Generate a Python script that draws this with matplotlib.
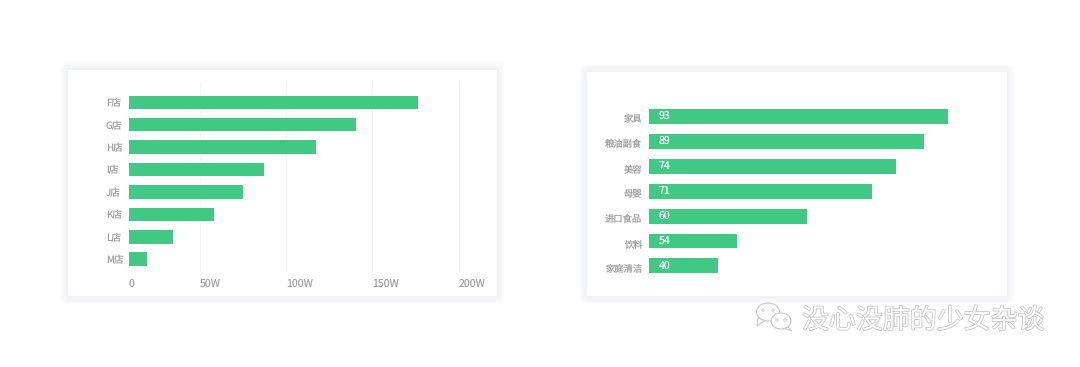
#%%
import numpy as np
import matplotlib
matplotlib.use('Agg')
import matplotlib.pyplot as plt
import matplotlib.patheffects as pe
from matplotlib.patches import Rectangle, FancyBboxPatch, Ellipse, Polygon

plt.rcParams['font.family'] = ['Noto Sans CJK SC', 'DejaVu Sans']
plt.rcParams['text.hinting'] = 'no_hinting'

#%% data
shops = ['F店', 'G店', 'H店', 'I店', 'J店', 'K店', 'L店', 'M店']
shop_sales = [176.6, 140.8, 117.6, 87.2, 75.2, 58.5, 30.8, 13]   # in W
sales_ticks = [0, 50, 100, 150, 200]
sales_labels = ['0', '50W', '100W', '150W', '200W']

goods = ['家具', '粮油副食', '美容', '母婴', '进口食品', '饮料', '家庭清洁']
goods_labels = ['93', '89', '74', '71', '60', '54', '40']
goods_len = [93, 85.7, 76.8, 69.3, 49.3, 27.5, 21.6]   # bars are not to scale with their labels

GREEN = '#41c983'
GREY = '#a3a3a3'
W, H = 1080, 367

fig = plt.figure(figsize=(W / 100, H / 100), dpi=100, facecolor='white')

def px_axes(x0, y0, x1, y1):
    return fig.add_axes([x0 / W, 1 - y1 / H, (x1 - x0) / W, (y1 - y0) / H])

#%% background layer in pixel coords: cards, shadows, watermark
bg = fig.add_axes([0, 0, 1, 1])
bg.set_xlim(0, W)
bg.set_ylim(H, 0)
bg.axis('off')

def card(x0, y0, x1, y1):
    for grow in range(8, 0, -1):
        bg.add_patch(FancyBboxPatch((x0 - grow + 3, y0 - grow + 3), x1 - x0 + 2 * grow - 6, y1 - y0 + 2 * grow - 6,
                                    boxstyle='round,pad=3,rounding_size=6', fc='#dde2fa', ec='none', alpha=0.05, lw=0))
    bg.add_patch(Rectangle((x0, y0), x1 - x0, y1 - y0, fc='white', ec='none'))

card(68, 70, 497, 296)
card(587, 72, 1007, 296)

# watermark
emboss = [pe.withStroke(linewidth=1.1, foreground='#c4c4c4')]
for cx, cy, w, h, tail in [(768, 312, 23, 18, [(758, 318), (757, 326), (766, 320)]),
                           (781, 321, 20, 16, [(787, 326), (792, 331), (783, 328)])]:
    bg.add_patch(Polygon(tail, fc='white', ec='#c8c8c8', lw=0.8, zorder=3))
    bg.add_patch(Ellipse((cx, cy), w, h, fc='white', ec='#c8c8c8', lw=0.8, zorder=3))
for x, y in [(763, 310), (773, 310), (777, 320), (785, 320)]:
    bg.add_patch(Ellipse((x, y), 2.4, 2.4, fc='none', ec='#cccccc', lw=0.7, zorder=4))
bg.text(802, 320.5, '没心没肺的少女杂谈', fontsize=19.4, color='white', va='center', ha='left',
        path_effects=emboss, zorder=4)

#%% left chart
def fwd(v):
    v = np.asarray(v, dtype=float)
    return np.where(v <= 50, v * 70.7 / 50, 70.7 + (v - 50) * 86.4 / 50)

def inv(p):
    p = np.asarray(p, dtype=float)
    return np.where(p <= 70.7, p * 50 / 70.7, 50 + (p - 70.7) * 50 / 86.4)

ax = px_axes(129, 81, 458.7, 272)
ax.patch.set_alpha(0)
ax.set_xscale('function', functions=(fwd, inv))
ax.barh(range(len(shops)), shop_sales, height=0.6, color=GREEN, zorder=3)
ax.vlines(sales_ticks[1:], 0, 1, transform=ax.get_xaxis_transform(), color='#f3f3f5', lw=0.8, zorder=1, clip_on=False)
ax.set_xlim(0, 200)
ax.set_ylim(7.57, -0.95)
ax.set_xticks(sales_ticks, sales_labels, fontsize=7.6, color=GREY)
ax.set_yticks(range(len(shops)), shops, fontsize=7, color=GREY)
for t in ax.get_xticklabels():
    t.set_ha('left')
for t in ax.get_yticklabels():
    t.set_ha('left')
ax.tick_params(axis='x', length=0, pad=4.5)
ax.tick_params(axis='y', length=0, pad=16.6)
for s in ax.spines.values():
    s.set_visible(False)

#%% right chart
ax2 = px_axes(648.5, 103.9, 948, 278.4)
ax2.patch.set_alpha(0)
ax2.barh(range(len(goods)), goods_len, height=0.6, color=GREEN, zorder=3)
ax2.set_xlim(0, 93)
ax2.set_ylim(6.5, -0.5)
ax2.set_xticks([])
ax2.set_yticks(range(len(goods)), goods, fontsize=6.7, color=GREY)
ax2.tick_params(axis='y', length=0, pad=4.3)
for t in ax2.get_yticklabels():
    t.set_transform(t.get_transform() + matplotlib.transforms.ScaledTranslation(0, -2 / 100, fig.dpi_scale_trans))
for i, lab in enumerate(goods_labels):
    ax2.annotate(lab, (0, i), xytext=(10.5, 0.5), textcoords='offset pixels', color='white', fontsize=7.6,
                 va='center', ha='left', zorder=4)
for s in ax2.spines.values():
    s.set_visible(False)

fig.savefig('out.png', dpi=100)
